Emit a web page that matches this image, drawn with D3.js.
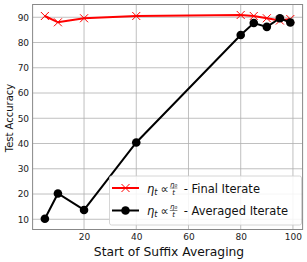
<!DOCTYPE html>
<html>
<head>
<meta charset="utf-8">
<script src="https://cdn.jsdelivr.net/npm/d3@7"></script>
<style>
  body { margin: 0; background: #fff; }
  svg { display: block; font-family: "DejaVu Sans", sans-serif; }
</style>
</head>
<body>
<svg id="chart" width="307" height="262"></svg>
<script>
// data
const starts = [5, 10, 20, 40, 80, 85, 90, 95, 99];
const finalIterate = [90.5, 88.0, 89.6, 90.5, 90.9, 90.5, 89.6, 88.7, 89.3];
const averagedIterate = [10.2, 20.2, 13.7, 40.4, 83.0, 87.7, 86.2, 89.6, 87.9];
const xTicks = [20, 40, 60, 80, 100];
const yTicks = [10, 20, 30, 40, 50, 60, 70, 80, 90];

const svg = d3.select('#chart');
const m = { left: 32.6, right: 302.6, top: 4.5, bottom: 229.5 };

const x = d3.scaleLinear().domain([0.3, 103.7]).range([m.left, m.right]);
const y = d3.scaleLinear().domain([5.95, 95.05]).range([m.bottom, m.top]);

// grid
const grid = svg.append('g');
grid.selectAll('line.gx').data(xTicks).join('line')
  .attr('x1', d => x(d)).attr('x2', d => x(d))
  .attr('y1', m.top).attr('y2', m.bottom)
  .attr('stroke', '#b0b0b0').attr('stroke-width', 0.8);
grid.selectAll('line.gy').data(yTicks).join('line')
  .attr('y1', d => y(d)).attr('y2', d => y(d))
  .attr('x1', m.left).attr('x2', m.right)
  .attr('stroke', '#b0b0b0').attr('stroke-width', 0.8);

// axes (no tick marks, labels only)
const xAxis = svg.append('g').attr('transform', `translate(0,${m.bottom})`)
  .call(d3.axisBottom(x).tickValues(xTicks).tickSize(0).tickPadding(4));
const yAxis = svg.append('g').attr('transform', `translate(${m.left},0)`)
  .call(d3.axisLeft(y).tickValues(yTicks).tickSize(0).tickPadding(3.5));
[xAxis, yAxis].forEach(a => {
  a.select('.domain').remove();
  a.selectAll('line').remove();
  a.selectAll('text').attr('fill', '#222').style('font-size', '9px')
    .style('font-family', '"DejaVu Sans", sans-serif');
});

// frame
svg.append('rect')
  .attr('x', m.left).attr('y', m.top)
  .attr('width', m.right - m.left).attr('height', m.bottom - m.top)
  .attr('fill', 'none').attr('stroke', '#888').attr('stroke-width', 1);

const line = d3.line().x(d => x(d[0])).y(d => y(d[1]));
const red = d3.zip(starts, finalIterate);
const black = d3.zip(starts, averagedIterate);

// final iterate
svg.append('path').datum(red).attr('d', line)
  .attr('fill', 'none').attr('stroke', '#ff0000').attr('stroke-width', 2);
const cross = s => `M${-s},${-s}L${s},${s}M${-s},${s}L${s},${-s}`;
svg.append('g').selectAll('path').data(red).join('path')
  .attr('transform', d => `translate(${x(d[0])},${y(d[1])})`)
  .attr('d', cross(4)).attr('stroke', '#ff0000').attr('stroke-width', 1);

// averaged iterate
svg.append('path').datum(black).attr('d', line)
  .attr('fill', 'none').attr('stroke', '#000').attr('stroke-width', 2);
svg.append('g').selectAll('circle').data(black).join('circle')
  .attr('cx', d => x(d[0])).attr('cy', d => y(d[1])).attr('r', 4.3)
  .attr('fill', '#000');

// labels
svg.append('text').attr('x', 169).attr('y', 256)
  .attr('text-anchor', 'middle').style('font-size', '12.3px').attr('fill', '#111')
  .text('Start of Suffix Averaging');
svg.append('text').attr('transform', `translate(13,118) rotate(-90)`)
  .attr('text-anchor', 'middle').style('font-size', '10px').attr('fill', '#111')
  .text('Test Accuracy');

// legend
const lg = svg.append('g');
lg.append('rect').attr('x', 109.5).attr('y', 176).attr('width', 192).attr('height', 49)
  .attr('rx', 2).attr('fill', 'rgba(255,255,255,0.85)').attr('stroke', '#ccc').attr('stroke-width', 0.8);
const entries = [
  { label: ' - Final Iterate', color: '#ff0000', mark: 'x', yy: 188 },
  { label: ' - Averaged Iterate', color: '#000', mark: 'o', yy: 210.5 }
];
entries.forEach(e => {
  const g = lg.append('g').attr('transform', `translate(0,${e.yy})`);
  g.append('line').attr('x1', 112).attr('x2', 139).attr('stroke', e.color).attr('stroke-width', 2);
  if (e.mark === 'x') {
    g.append('path').attr('transform', 'translate(125.5,0)').attr('d', cross(4))
      .attr('stroke', e.color).attr('stroke-width', 1);
  } else {
    g.append('circle').attr('cx', 125.5).attr('r', 4.3).attr('fill', e.color);
  }
  const t = g.append('text').attr('x', 147).attr('y', 4.5).style('font-size', '11.5px').attr('fill', '#111');
  t.append('tspan').style('font-style', 'italic').text('η');
  t.append('tspan').attr('dy', 2).style('font-size', '8px').style('font-style', 'italic').text('t');
  t.append('tspan').attr('dy', -2).attr('x', 160.5).text('∝');
  const fx = 173.6;
  g.append('text').attr('x', fx).attr('y', -1.5).attr('text-anchor', 'middle')
    .style('font-size', '7px').style('font-style', 'italic').attr('fill', '#111').text('η₀');
  g.append('line').attr('x1', fx - 3.8).attr('x2', fx + 3.8).attr('y1', 0).attr('y2', 0)
    .attr('stroke', '#111').attr('stroke-width', 0.5);
  g.append('text').attr('x', fx).attr('y', 6.5).attr('text-anchor', 'middle')
    .style('font-size', '7px').style('font-style', 'italic').attr('fill', '#111').text('t');
  g.append('text').attr('x', 180).attr('y', 4.5).style('font-size', '11.5px').attr('fill', '#111')
    .attr('xml:space', 'preserve').style('white-space', 'pre')
    .text(e.label);
});
</script>
</body>
</html>
